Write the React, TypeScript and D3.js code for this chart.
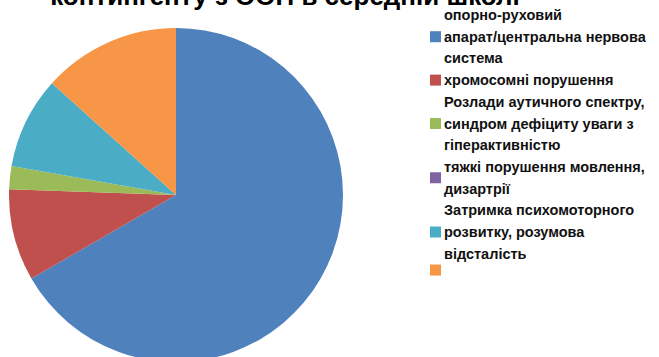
import React from "react";
import * as d3 from "d3";

const categories: string[][] = [
  ["опорно-руховий", "апарат/центральна нервова", "система"],
  ["хромосомні порушення"],
  ["Розлади аутичного спектру,", "синдром дефіциту уваги з", "гіперактивністю"],
  ["тяжкі порушення мовлення,", "дизартрії"],
  ["Затримка психомоторного", "розвитку, розумова", "відсталість"],
  [],
];
const values: number[] = [30, 4, 1, 0, 4, 6];
const colors: string[] = ["#4F81BD", "#C0504D", "#9BBB59", "#8064A2", "#4BACC6", "#F79646"];
const title = "контингенту з ООП в середній школі";

export default function App() {
  const W = 659, H = 357;
  const cx = 176, cy = 195, r = 167;
  const pie = d3.pie<number>().sort(null).value((d) => d)(values);
  const arc = d3.arc<d3.PieArcDatum<number>>().innerRadius(0).outerRadius(r);

  const lh = 21.7;
  let cursor = 15 - lh / 2;
  const items = categories.map((lines, i) => {
    const top = cursor;
    const h = lines.length ? lines.length * lh : 11;
    cursor += h;
    const mid = lines.length ? top + h / 2 : top + 5.5;
    return { lines, top, mid, color: colors[i] };
  });

  return (
    <svg width={W} height={H} style={{ position: "absolute", left: 0, top: 0 }}>
      <rect width={W} height={H} fill="#fff" />
      <g transform={`translate(${cx},${cy})`}>
        {pie.map((d, i) => (
          <path key={i} d={arc(d) || ""} fill={colors[i]} />
        ))}
      </g>
      <text x={285} y={5} textAnchor="middle" fontFamily="Liberation Sans, Arial, sans-serif" fontWeight="bold" fontSize={26} fill="#000">
        {title}
      </text>
      <g fontFamily="Liberation Sans, Arial, sans-serif" fontWeight="bold" fontSize={14.5} fill="#111">
        {items.map((it, i) => (
          <g key={i}>
            <rect x={430} y={it.mid - 5.5} width={11} height={11} fill={it.color} />
            {it.lines.map((t, j) => (
              <text key={j} x={444} y={it.top + lh * j + lh / 2} dy="0.35em">
                {t}
              </text>
            ))}
          </g>
        ))}
      </g>
    </svg>
  );
}
